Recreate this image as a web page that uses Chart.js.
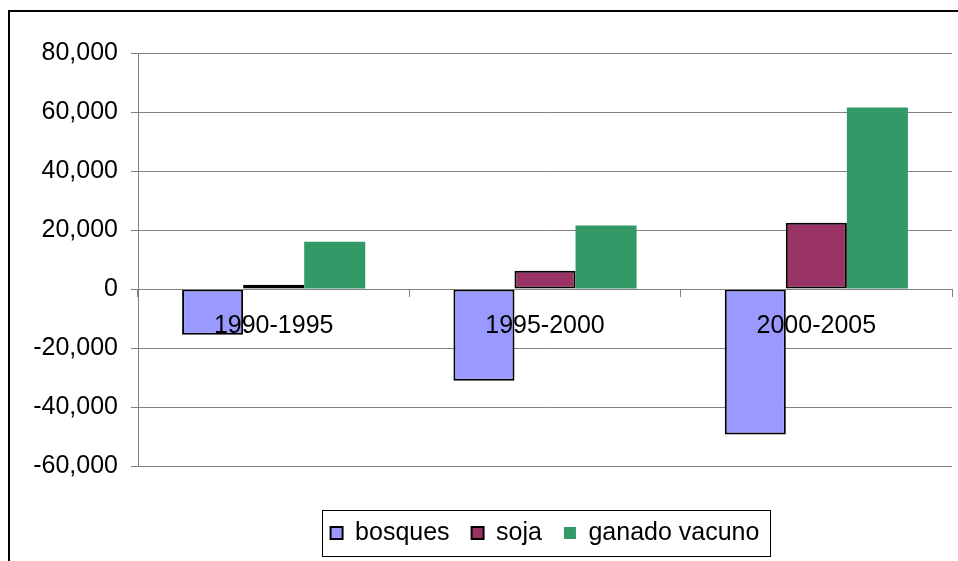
<!DOCTYPE html>
<html>
<head>
<meta charset="utf-8">
<script src="https://cdn.jsdelivr.net/npm/chart.js@4/dist/chart.umd.min.js"></script>
<style>
html,body{margin:0;padding:0;background:#fff;}
#wrap{position:relative;width:958px;height:561px;}
</style>
</head>
<body>
<div id="wrap"><canvas id="c" width="958" height="561"></canvas></div>
<script>
// ---- data ----
const categories = ['1990-1995', '1995-2000', '2000-2005'];
const seriesNames = ['bosques', 'soja', 'ganado vacuno'];
const bosques = [-15500, -31100, -49300];
const soja = [1400, 6200, 22500];
const ganadoVacuno = [16000, 21500, 61500];
const yTickValues = [-60000, -40000, -20000, 0, 20000, 40000, 60000, 80000];

const FONT = { family: "'Liberation Sans', Arial, sans-serif", size: 25 };

const framePlugin = {
  id: 'frame',
  afterLayout(chart) {
    const lg = chart.legend, ca = chart.chartArea;
    if (!lg) return;
    const h = lg.height;
    lg.left = ca.left; lg.right = ca.right; lg.width = ca.right - ca.left;
    lg.top = ca.bottom + 32.5; lg.bottom = lg.top + h;
  },
  beforeDraw(chart) {
    const ctx = chart.ctx;
    ctx.save();
    ctx.fillStyle = '#fff';
    ctx.fillRect(0, 0, chart.width, chart.height);
    ctx.strokeStyle = '#000';
    ctx.lineWidth = 2;
    ctx.beginPath();
    ctx.moveTo(9, chart.height);
    ctx.lineTo(9, 11);
    ctx.lineTo(chart.width, 11);
    ctx.stroke();
    ctx.restore();
  },
  afterDraw(chart) {
    const lg = chart.legend;
    if (!lg || !lg.legendHitBoxes || !lg.legendHitBoxes.length) return;
    const hb = lg.legendHitBoxes;
    const first = hb[0], last = hb[hb.length - 1];
    const x1 = Math.round(first.left - 9) + 0.5;
    const x2 = Math.round(last.left + last.width + 11) + 0.5;
    const cy = first.top + first.height / 2;
    const y1 = Math.round(cy - 23) + 0.5, y2 = Math.round(cy + 23) + 0.5;
    const ctx = chart.ctx;
    ctx.save();
    ctx.strokeStyle = '#000';
    ctx.lineWidth = 1;
    ctx.strokeRect(x1, y1, x2 - x1, y2 - y1);
    ctx.restore();
  }
};

new Chart(document.getElementById('c'), {
  type: 'bar',
  data: {
    labels: categories,
    datasets: [
      { label: seriesNames[0], data: bosques, backgroundColor: '#9999FF', borderColor: '#000', borderWidth: 2, borderSkipped: false },
      { label: seriesNames[1], data: soja, backgroundColor: '#993366', borderColor: '#000', borderWidth: 2, borderSkipped: false },
      { label: seriesNames[2], data: ganadoVacuno, backgroundColor: '#339966', borderColor: '#339966', borderWidth: 0 }
    ]
  },
  options: {
    responsive: false,
    animation: false,
    devicePixelRatio: 1,
    layout: { padding: { left: 8, right: 6, top: 53, bottom: 38 } },
    datasets: { bar: { barPercentage: 1, categoryPercentage: 0.675 } },
    scales: {
      x: {
        position: { y: 0 },
        grid: { display: true, drawOnChartArea: false, drawTicks: true, tickLength: 7, color: '#808080', offset: true },
        border: { display: true, color: '#808080', width: 1, z: 1 },
        ticks: { color: '#000', font: FONT, padding: 15, maxRotation: 0, autoSkip: false, z: 2 }
      },
      y: {
        min: yTickValues[0],
        max: yTickValues[yTickValues.length - 1],
        afterFit(scale) { scale.width = 130; },
        afterBuildTicks(scale) { scale.ticks = yTickValues.map(v => ({ value: v })); },
        grid: { color: '#808080', lineWidth: 1, drawTicks: true, tickLength: 7 },
        border: { display: true, color: '#808080', width: 1 },
        ticks: {
          color: '#000', font: FONT, padding: 13,
          callback: v => Number(v).toLocaleString('en-US')
        }
      }
    },
    plugins: {
      legend: {
        display: true,
        position: 'bottom',
        labels: { color: '#000', font: FONT, boxWidth: 12, boxHeight: 12, padding: 22 }
      },
      tooltip: { enabled: false },
      title: { display: false }
    }
  },
  plugins: [framePlugin]
});
</script>
</body>
</html>
